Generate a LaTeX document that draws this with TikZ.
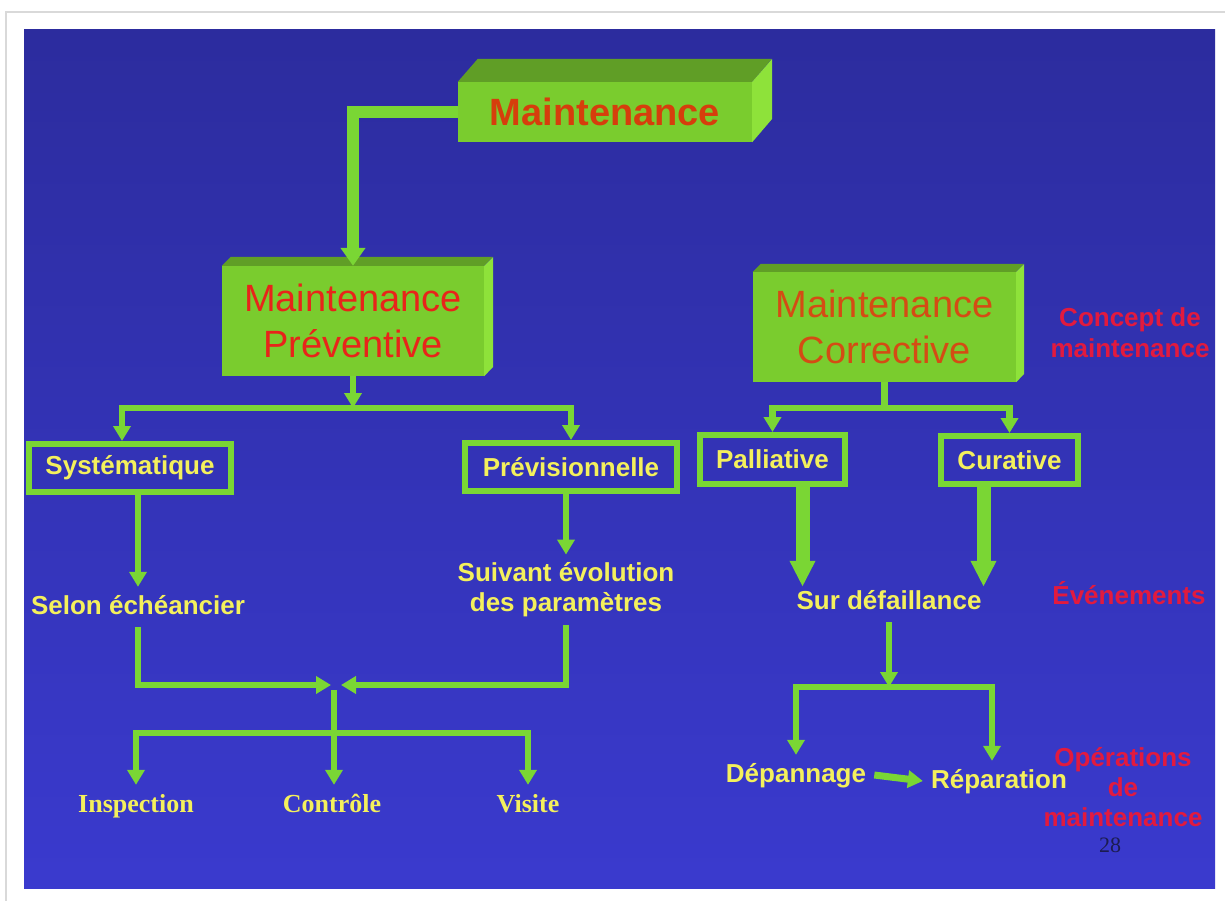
\documentclass[tikz,border=0pt]{standalone}
\usepackage{fontspec}
\setmainfont{Liberation Sans}
\newfontfamily\timesfont{Liberation Serif}
\usepackage{tikz}
\usetikzlibrary{arrows.meta,positioning,calc}
\usepackage{xcolor}

\definecolor{slideblue}{RGB}{44,44,158}
\definecolor{slidebluelow}{RGB}{58,58,206}
\definecolor{boxgreen}{RGB}{122,204,46}
\definecolor{boxtopgreen}{RGB}{96,158,38}
\definecolor{boxsidegreen}{RGB}{142,226,58}
\definecolor{linkgreen}{RGB}{122,214,52}
\definecolor{textyellow}{RGB}{244,240,92}
\definecolor{titlered}{RGB}{214,62,12}
\definecolor{prevred}{RGB}{232,36,26}
\definecolor{corrred}{RGB}{212,76,20}
\definecolor{notered}{RGB}{226,26,62}
\definecolor{pagenum}{RGB}{28,28,80}

\begin{document}
\begin{tikzpicture}[x=1pt, y=-1pt,
				bigbox/.style={fill=boxgreen, inner sep=0pt, align=center},
				typebox/.style={draw=linkgreen, line width=6pt, inner sep=0pt, minimum height=48pt,
					text=textyellow, font=\bfseries\fontsize{26}{30}\selectfont},
				yel/.style={text=textyellow, font=\bfseries\fontsize{26}{30}\selectfont, inner sep=8pt},
				lbl/.style={yel, text height=19pt, text depth=5pt},
				oplbl/.style={lbl, font=\timesfont\bfseries\fontsize{26}{30}\selectfont},
				note/.style={text=notered, font=\bfseries\fontsize{26}{31}\selectfont, align=center, inner sep=0pt},
				link/.style={draw=linkgreen, line width=6.5pt, -{Triangle[width=17pt,length=15pt]}},
				bar/.style={draw=linkgreen, line width=6.5pt},
				fatlink/.style={draw=linkgreen, line width=14pt, -{Triangle[width=24pt,length=26pt]}}]
			\useasboundingbox (0,0) rectangle (1225,901);
			\fill[white] (0,0) rectangle (1225,901);
			\draw[black!15, line width=2pt] (6,901) -- (6,12) -- (1225,12);
			\shade[top color=slideblue, bottom color=slidebluelow] (24,30) rectangle (1215,888);

			% 3D boxes
			\node[bigbox, minimum width=294pt, minimum height=60pt, text=titlered,
				font=\bfseries\fontsize{38}{44}\selectfont] (maint) at (605,112) {Maintenance};
			\fill[boxtopgreen] (maint.north west) -- ++(20,-23) -- ++(294,0) -- (maint.north east) -- cycle;
			\fill[boxsidegreen] (maint.north east) -- ++(20,-23) -- ++(0,60) -- (maint.south east) -- cycle;

			\node[bigbox, minimum width=262pt, minimum height=110pt, text=prevred,
				font=\fontsize{38}{46}\selectfont] (prev) at (353,321) {Maintenance\\Préventive};
			\fill[boxtopgreen] (prev.north west) -- ++(9,-9) -- ++(262,0) -- (prev.north east) -- cycle;
			\fill[boxsidegreen] (prev.north east) -- ++(9,-9) -- ++(0,110) -- (prev.south east) -- cycle;

			\node[bigbox, minimum width=263pt, minimum height=110pt, text=corrred,
				font=\fontsize{38}{46}\selectfont] (corr) at (884.5,327) {Maintenance\\Corrective};
			\fill[boxtopgreen] (corr.north west) -- ++(8,-8) -- ++(263,0) -- (corr.north east) -- cycle;
			\fill[boxsidegreen] (corr.north east) -- ++(8,-8) -- ++(0,110) -- (corr.south east) -- cycle;

			% framed types
			\node[typebox, minimum width=202pt] (sys) at (130,468) {Systématique};
			\node[typebox, minimum width=212pt] (prevs) at (571,467) {Prévisionnelle};
			\node[typebox, minimum width=145pt, minimum height=49pt] (pal) at (772.5,459.5) {Palliative};
			\node[typebox, minimum width=137pt] (cur) at (1009.5,460) {Curative};

			% plain labels
			\node[lbl, anchor=base] (sel) at (138,614) {Selon échéancier};
			\node[yel, align=center] (suiv) at (566,590) {Suivant évolution\\des paramètres};
			\node[lbl, anchor=base] (sur) at (889,609) {Sur défaillance};
			\node[oplbl, anchor=base] (insp) at (136,812) {Inspection};
			\node[oplbl, anchor=base] (ctrl) at (332,812) {Contrôle};
			\node[oplbl, anchor=base] (visit) at (528,812) {Visite};
			\node[lbl, anchor=base] (dep) at (796,782) {Dépannage};
			\node[lbl, anchor=base] (rep) at (999,788) {Réparation};

			\node[note] (concept) at (1130,333) {Concept de\\maintenance};
			\node[note] (evt) at (1129,593) {Événements};
			\node[note, font=\bfseries\fontsize{26}{30}\selectfont] (ops) at (1123,787) {Opérations\\de\\maintenance};
			\node[text=pagenum, inner sep=0pt, font=\timesfont\fontsize{22}{24}\selectfont] (pg) at (1110,845) {28};

			% connectors
			\coordinate (pjoin) at (353,408);
			\coordinate (cjoin) at (884.5,408);
			\coordinate (mgl) at (331,685);
			\coordinate (mgr) at (341,685);
			\coordinate (lstem) at (334,690);
			\coordinate (lbar) at (334,733);
			\coordinate (rbar) at (889,687);

			\draw[link, line width=12pt, -{Triangle[width=24pt,length=18pt]}] (maint.west) -| (prev.north);
			\draw[link] (prev.south) -- (pjoin);
			\draw[link] (pjoin) -| ($(sys.north)+(-8,0)$);
			\draw[link] (pjoin) -| (prevs.north);
			\draw[bar] (corr.south) -- (cjoin);
			\draw[link] (cjoin) -| (pal.north);
			\draw[link] (cjoin) -| (cur.north);

			\draw[link] (sel.north |- sys.south) -- (sel.north);
			\draw[link] (suiv.north |- prevs.south) -- (suiv.north);
			\draw[fatlink] ($(pal.south)+(30,0)$) -- ($(pal.south |- sur.north)+(30,5)$);
			\draw[fatlink] ($(cur.south)+(-26,0)$) -- ($(cur.south |- sur.north)+(-26,5)$);

			\draw[link] (sel.south) |- (mgl);
			\draw[link] (suiv.south) |- (mgr);
			\draw[bar] (lstem) -- (lbar);
			\draw[link] (lbar) -| (insp.north);
			\draw[link] (lbar) -- (lbar |- ctrl.north);
			\draw[link] (lbar) -| (visit.north);

			\draw[link] (sur.south) -- (rbar);
			\draw[link] (rbar) -| (dep.north);
			\draw[link] (rbar) -| ($(rep.north)+(-7,0)$);
			\draw[link, line width=7pt] (dep.east) -- (rep.west);
		\end{tikzpicture}
\end{document}
